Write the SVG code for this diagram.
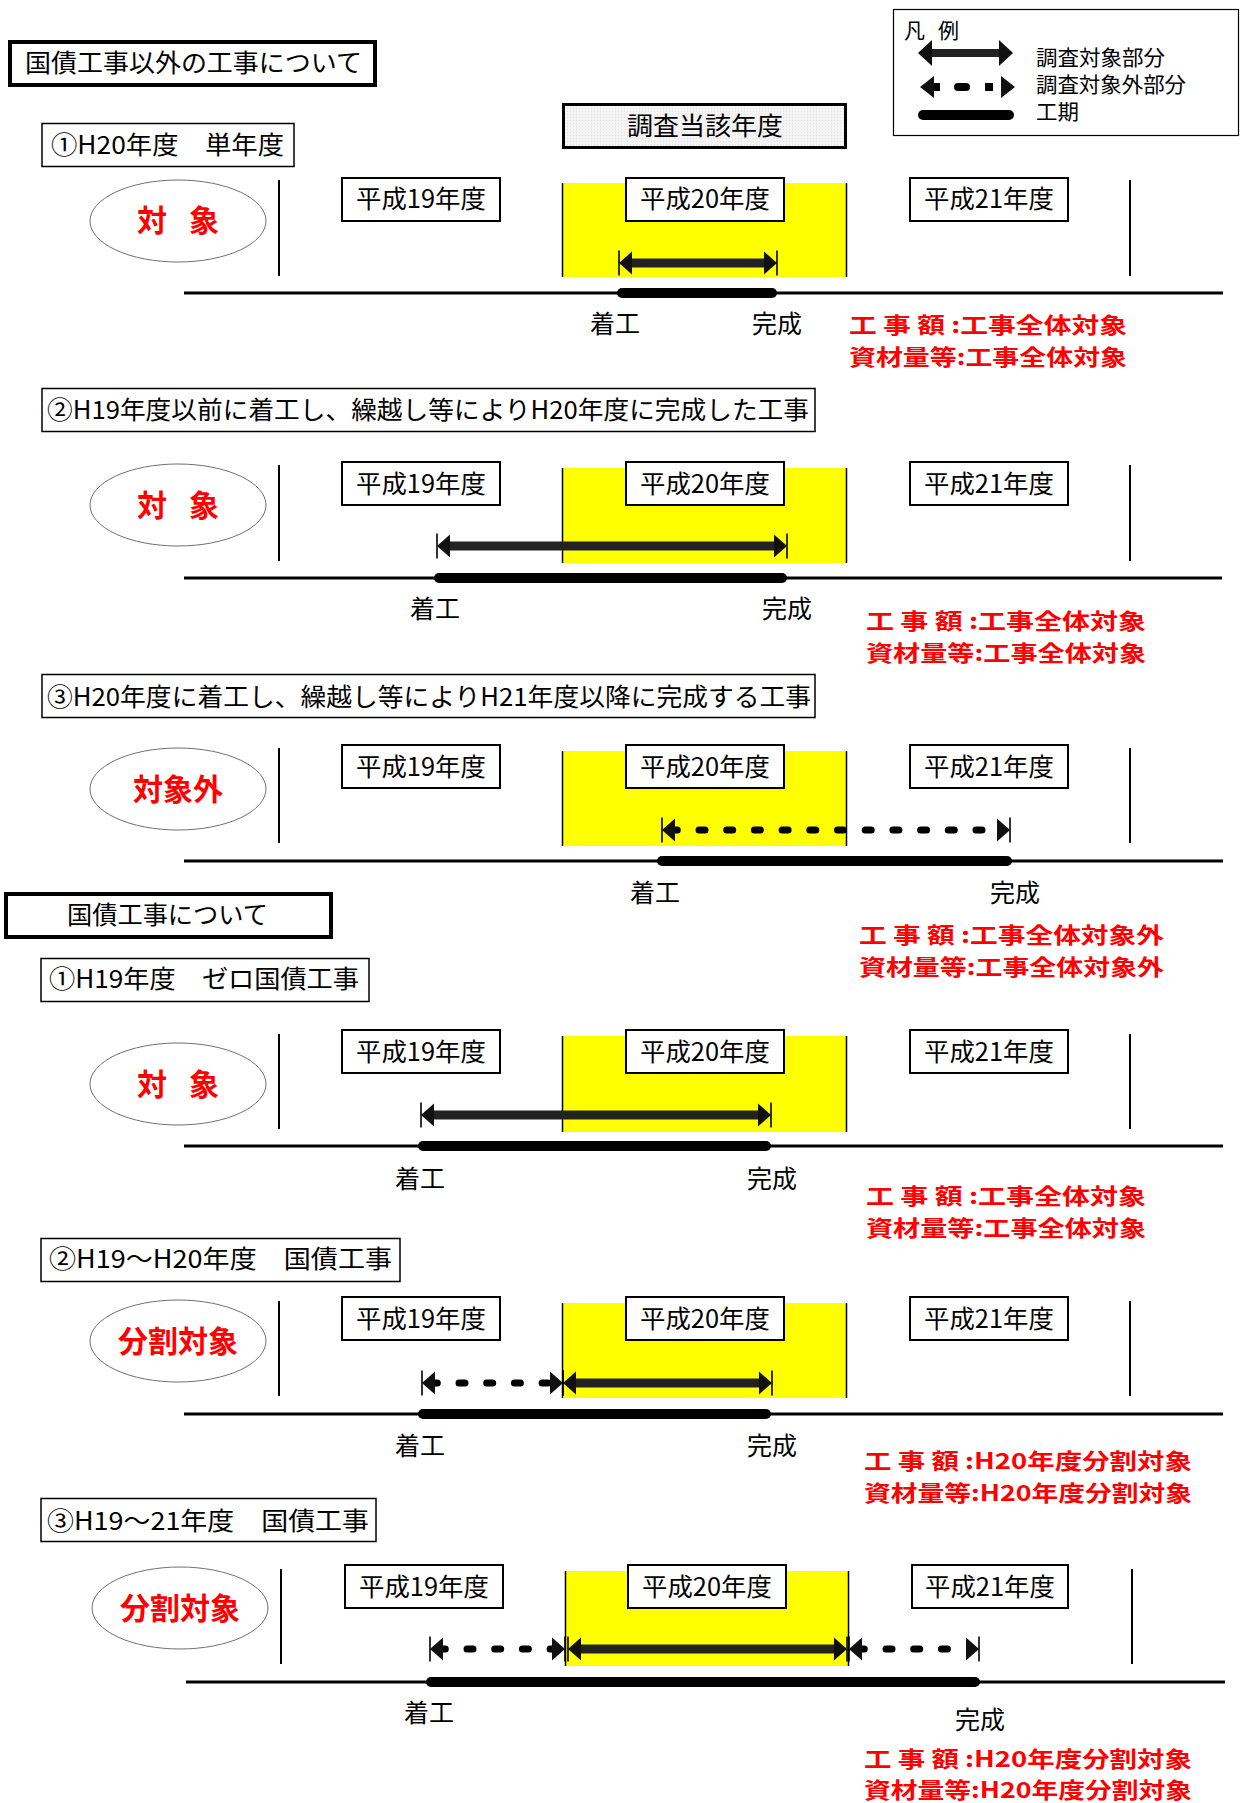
<svg xmlns="http://www.w3.org/2000/svg" width="1240" height="1803" viewBox="0 0 1240 1803">
<defs>
<marker id="ah" viewBox="-15 -13 17 26" markerWidth="17" markerHeight="26" refX="-11" refY="0" orient="auto-start-reverse" markerUnits="userSpaceOnUse" overflow="visible">
<path d="M0,0 L-13,-11.5 L-13,11.5 Z" fill="#111"/>
<path d="M0,-12.5 V12.5" stroke="#000" stroke-width="1.6"/>
</marker>
<marker id="ahn" viewBox="-15 -14 17 28" markerWidth="17" markerHeight="28" refX="-11" refY="0" orient="auto-start-reverse" markerUnits="userSpaceOnUse" overflow="visible">
<path d="M0,0 L-14,-13 L-14,13 Z" fill="#111"/>
</marker>
<pattern id="dots" width="3" height="3" patternUnits="userSpaceOnUse">
<rect width="3" height="3" fill="#f4f4f4"/>
<rect width="1" height="1" fill="#e2e2e2"/>
</pattern>
</defs>
<style>
text{font-family:"Noto Sans CJK JP","Noto Sans CJK SC",sans-serif;fill:#000}
.f25{font-size:25px}
.f21{font-size:21px}
.yr{font-size:25px;text-anchor:middle}
.lb{font-size:25px}
.red{font-size:22px;font-weight:bold;fill:#ff0000}
.et{font-size:30px;font-weight:bold;fill:#ff0000;text-anchor:middle}
.hb{fill:#fff;stroke:#000;stroke-width:4}
.sb{fill:#fff;stroke:#000;stroke-width:1.5}
.yb{fill:#fff;stroke:#000;stroke-width:2}
.yel{fill:#ffff00}
.vl{stroke:#000;stroke-width:2}
.yl{stroke:#000;stroke-width:1.5}
.tl{stroke:#000;stroke-width:3}
.bar{stroke:#000;stroke-width:10;stroke-linecap:round}
.arr{stroke:#222;stroke-width:9;marker-start:url(#ah);marker-end:url(#ah)}
.darr{stroke:#000;stroke-width:7;stroke-linecap:round;stroke-dasharray:6 21.7;stroke-dashoffset:1.7;marker-start:url(#ah);marker-end:url(#ah)}
.ell{fill:#fff;stroke:#707070;stroke-width:1}
</style>
<rect width="1240" height="1803" fill="#fff"/>

<!-- headers -->
<g id="hdr1">
<rect class="hb" x="10" y="42" width="365" height="43"/>
<text class="f25" x="25" y="72" textLength="337" lengthAdjust="spacingAndGlyphs">国債工事以外の工事について</text>
</g>
<g id="legend">
<rect x="893.5" y="9.5" width="345" height="126" fill="#fff" stroke="#000" stroke-width="1.2"/>
<text class="f21" x="904" y="38" textLength="55">凡　例</text>
<line x1="929" y1="53" x2="1002" y2="53" stroke="#222" stroke-width="8" marker-start="url(#ahn)" marker-end="url(#ahn)"/>
<path d="M920,87 L934,76 L934,98 Z M1015,87 L1001,76 L1001,98 Z" fill="#111"/>
<line x1="934" y1="87" x2="940" y2="87" stroke="#000" stroke-width="8"/>
<line x1="958" y1="87" x2="966" y2="87" stroke="#000" stroke-width="8" stroke-linecap="round"/>
<rect x="985" y="83" width="8" height="8" fill="#000"/>
<line x1="923" y1="115" x2="1009" y2="115" stroke="#000" stroke-width="10" stroke-linecap="round"/>
<text class="f21" x="1036" y="65" textLength="129" lengthAdjust="spacingAndGlyphs">調査対象部分</text>
<text class="f21" x="1036" y="92" textLength="150" lengthAdjust="spacingAndGlyphs">調査対象外部分</text>
<text class="f21" x="1036" y="119" textLength="43" lengthAdjust="spacingAndGlyphs">工期</text>
</g>
<g id="target-year">
<rect x="563.5" y="104.5" width="282" height="43" fill="url(#dots)" stroke="#000" stroke-width="3"/>
<text class="f25" x="627" y="135" textLength="156" lengthAdjust="spacingAndGlyphs">調査当該年度</text>
</g>

<!-- Section 1 -->
<g id="s1">
<rect class="sb" x="42" y="123.5" width="252" height="43"/>
<text class="f25" x="51" y="154" textLength="233" lengthAdjust="spacingAndGlyphs">①H20年度　単年度</text>
<ellipse class="ell" cx="178" cy="221" rx="88" ry="41"/>
<text class="et" x="178" y="231" textLength="82">対　象</text>
<rect class="yel" x="562" y="183" width="285" height="94"/>
<line class="yl" x1="562.5" y1="183" x2="562.5" y2="277"/>
<line class="yl" x1="846.5" y1="183" x2="846.5" y2="277"/>
<line class="vl" x1="279" y1="180" x2="279" y2="276"/>
<line class="vl" x1="1130" y1="180" x2="1130" y2="276"/>
<rect class="yb" x="342" y="178" width="158" height="43"/>
<rect class="yb" x="626" y="178" width="158" height="43"/>
<rect class="yb" x="910" y="178" width="158" height="43"/>
<text class="yr" x="421" y="208" textLength="130" lengthAdjust="spacingAndGlyphs">平成19年度</text>
<text class="yr" x="705" y="208" textLength="130" lengthAdjust="spacingAndGlyphs">平成20年度</text>
<text class="yr" x="989" y="208" textLength="130" lengthAdjust="spacingAndGlyphs">平成21年度</text>
<text class="lb" x="590" y="333" textLength="50">着工</text>
<text class="lb" x="752" y="333" textLength="50">完成</text>
<text class="red" x="849" y="333" textLength="278" lengthAdjust="spacingAndGlyphs">工 事 額 :工事全体対象</text>
<text class="red" x="849" y="365" textLength="278" lengthAdjust="spacingAndGlyphs">資材量等:工事全体対象</text>
</g>

<!-- Section 2 -->
<g id="s2">
<rect class="sb" x="42" y="388.5" width="773" height="43"/>
<text class="f25" x="47" y="419" textLength="762" lengthAdjust="spacingAndGlyphs">②H19年度以前に着工し、繰越し等によりH20年度に完成した工事</text>
<ellipse class="ell" cx="178" cy="505" rx="88" ry="41"/>
<text class="et" x="178" y="516" textLength="82">対　象</text>
<rect class="yel" x="562" y="468" width="285" height="95"/>
<line class="yl" x1="562.5" y1="468" x2="562.5" y2="563"/>
<line class="yl" x1="846.5" y1="468" x2="846.5" y2="563"/>
<line class="vl" x1="279" y1="465" x2="279" y2="561"/>
<line class="vl" x1="1130" y1="465" x2="1130" y2="561"/>
<rect class="yb" x="342" y="462" width="158" height="43"/>
<rect class="yb" x="626" y="462" width="158" height="43"/>
<rect class="yb" x="910" y="462" width="158" height="43"/>
<text class="yr" x="421" y="493" textLength="130" lengthAdjust="spacingAndGlyphs">平成19年度</text>
<text class="yr" x="705" y="493" textLength="130" lengthAdjust="spacingAndGlyphs">平成20年度</text>
<text class="yr" x="989" y="493" textLength="130" lengthAdjust="spacingAndGlyphs">平成21年度</text>
<text class="lb" x="410" y="618" textLength="50">着工</text>
<text class="lb" x="762" y="618" textLength="50">完成</text>
<text class="red" x="866" y="629" textLength="280" lengthAdjust="spacingAndGlyphs">工 事 額 :工事全体対象</text>
<text class="red" x="866" y="661" textLength="280" lengthAdjust="spacingAndGlyphs">資材量等:工事全体対象</text>
</g>

<!-- Section 3 -->
<g id="s3">
<rect class="sb" x="42" y="674.5" width="773" height="43"/>
<text class="f25" x="47" y="706" textLength="764" lengthAdjust="spacingAndGlyphs">③H20年度に着工し、繰越し等によりH21年度以降に完成する工事</text>
<ellipse class="ell" cx="178" cy="789" rx="88" ry="41"/>
<text class="et" x="178" y="800">対象外</text>
<rect class="yel" x="562" y="751" width="285" height="95"/>
<line class="yl" x1="562.5" y1="751" x2="562.5" y2="846"/>
<line class="yl" x1="846.5" y1="751" x2="846.5" y2="846"/>
<line class="vl" x1="279" y1="748" x2="279" y2="843"/>
<line class="vl" x1="1130" y1="748" x2="1130" y2="843"/>
<rect class="yb" x="342" y="745" width="158" height="43"/>
<rect class="yb" x="626" y="745" width="158" height="43"/>
<rect class="yb" x="910" y="745" width="158" height="43"/>
<text class="yr" x="421" y="776" textLength="130" lengthAdjust="spacingAndGlyphs">平成19年度</text>
<text class="yr" x="705" y="776" textLength="130" lengthAdjust="spacingAndGlyphs">平成20年度</text>
<text class="yr" x="989" y="776" textLength="130" lengthAdjust="spacingAndGlyphs">平成21年度</text>
<text class="lb" x="630" y="902" textLength="50">着工</text>
<text class="lb" x="990" y="902" textLength="50">完成</text>
<text class="red" x="859" y="943" textLength="305" lengthAdjust="spacingAndGlyphs">工 事 額 :工事全体対象外</text>
<text class="red" x="859" y="975" textLength="305" lengthAdjust="spacingAndGlyphs">資材量等:工事全体対象外</text>
</g>

<!-- National debt header -->
<g id="hdr2">
<rect class="hb" x="6" y="894" width="325" height="43"/>
<text class="f25" x="67" y="924" textLength="201" lengthAdjust="spacingAndGlyphs">国債工事について</text>
</g>

<!-- N1 -->
<g id="n1">
<rect class="sb" x="41" y="958.5" width="328" height="43"/>
<text class="f25" x="49" y="988" textLength="310" lengthAdjust="spacingAndGlyphs">①H19年度　ゼロ国債工事</text>
<ellipse class="ell" cx="178" cy="1084" rx="88" ry="41"/>
<text class="et" x="178" y="1095" textLength="82">対　象</text>
<rect class="yel" x="562" y="1036" width="285" height="96"/>
<line class="yl" x1="562.5" y1="1036" x2="562.5" y2="1132"/>
<line class="yl" x1="846.5" y1="1036" x2="846.5" y2="1132"/>
<line class="vl" x1="279" y1="1034" x2="279" y2="1129"/>
<line class="vl" x1="1130" y1="1034" x2="1130" y2="1129"/>
<rect class="yb" x="342" y="1030" width="158" height="43"/>
<rect class="yb" x="626" y="1030" width="158" height="43"/>
<rect class="yb" x="910" y="1030" width="158" height="43"/>
<text class="yr" x="421" y="1061" textLength="130" lengthAdjust="spacingAndGlyphs">平成19年度</text>
<text class="yr" x="705" y="1061" textLength="130" lengthAdjust="spacingAndGlyphs">平成20年度</text>
<text class="yr" x="989" y="1061" textLength="130" lengthAdjust="spacingAndGlyphs">平成21年度</text>
<text class="lb" x="395" y="1188" textLength="50">着工</text>
<text class="lb" x="747" y="1188" textLength="50">完成</text>
<text class="red" x="866" y="1204" textLength="280" lengthAdjust="spacingAndGlyphs">工 事 額 :工事全体対象</text>
<text class="red" x="866" y="1236" textLength="280" lengthAdjust="spacingAndGlyphs">資材量等:工事全体対象</text>
</g>

<!-- N2 -->
<g id="n2">
<rect class="sb" x="41" y="1238.5" width="359" height="43"/>
<text class="f25" x="49" y="1268" textLength="343" lengthAdjust="spacingAndGlyphs">②H19～H20年度　国債工事</text>
<ellipse class="ell" cx="178" cy="1341" rx="88" ry="41"/>
<text class="et" x="178" y="1352">分割対象</text>
<rect class="yel" x="562" y="1303" width="285" height="95"/>
<line class="yl" x1="562.5" y1="1303" x2="562.5" y2="1398"/>
<line class="yl" x1="846.5" y1="1303" x2="846.5" y2="1398"/>
<line class="vl" x1="279" y1="1301" x2="279" y2="1396"/>
<line class="vl" x1="1130" y1="1301" x2="1130" y2="1396"/>
<rect class="yb" x="342" y="1297" width="158" height="43"/>
<rect class="yb" x="626" y="1297" width="158" height="43"/>
<rect class="yb" x="910" y="1297" width="158" height="43"/>
<text class="yr" x="421" y="1328" textLength="130" lengthAdjust="spacingAndGlyphs">平成19年度</text>
<text class="yr" x="705" y="1328" textLength="130" lengthAdjust="spacingAndGlyphs">平成20年度</text>
<text class="yr" x="989" y="1328" textLength="130" lengthAdjust="spacingAndGlyphs">平成21年度</text>
<text class="lb" x="395" y="1455" textLength="50">着工</text>
<text class="lb" x="747" y="1455" textLength="50">完成</text>
<text class="red" x="864" y="1469" textLength="328" lengthAdjust="spacingAndGlyphs">工 事 額 :H20年度分割対象</text>
<text class="red" x="864" y="1501" textLength="328" lengthAdjust="spacingAndGlyphs">資材量等:H20年度分割対象</text>
</g>

<!-- N3 -->
<g id="n3">
<rect class="sb" x="41" y="1498.5" width="335" height="43"/>
<text class="f25" x="47" y="1530" textLength="322" lengthAdjust="spacingAndGlyphs">③H19～21年度　国債工事</text>
<ellipse class="ell" cx="180" cy="1608" rx="88" ry="41"/>
<text class="et" x="180" y="1619">分割対象</text>
<rect class="yel" x="565" y="1571" width="284" height="95"/>
<line class="yl" x1="565.5" y1="1571" x2="565.5" y2="1666"/>
<line class="yl" x1="848.5" y1="1571" x2="848.5" y2="1666"/>
<line class="vl" x1="281" y1="1569" x2="281" y2="1664"/>
<line class="vl" x1="1132" y1="1569" x2="1132" y2="1664"/>
<rect class="yb" x="345" y="1565" width="158" height="43"/>
<rect class="yb" x="628" y="1565" width="158" height="43"/>
<rect class="yb" x="912" y="1565" width="156" height="43"/>
<text class="yr" x="424" y="1596" textLength="130" lengthAdjust="spacingAndGlyphs">平成19年度</text>
<text class="yr" x="707" y="1596" textLength="130" lengthAdjust="spacingAndGlyphs">平成20年度</text>
<text class="yr" x="990" y="1596" textLength="130" lengthAdjust="spacingAndGlyphs">平成21年度</text>
<text class="lb" x="404" y="1722" textLength="50">着工</text>
<text class="lb" x="955" y="1729" textLength="50">完成</text>
<text class="red" x="864" y="1767" textLength="328" lengthAdjust="spacingAndGlyphs">工 事 額 :H20年度分割対象</text>
<text class="red" x="864" y="1798" textLength="328" lengthAdjust="spacingAndGlyphs">資材量等:H20年度分割対象</text>
</g>

<!-- connectors: timelines, construction periods and arrows -->
<g id="connectors">
<line class="tl" x1="184" y1="293" x2="1223" y2="293"/>
<line class="bar" x1="622" y1="293" x2="772" y2="293"/>
<line class="arr" x1="630" y1="263" x2="766" y2="263"/>

<line class="tl" x1="184" y1="578" x2="1222" y2="578"/>
<line class="bar" x1="439" y1="578" x2="782" y2="578"/>
<line class="arr" x1="448" y1="546" x2="776" y2="546"/>

<line class="tl" x1="184" y1="861" x2="1223" y2="861"/>
<line class="bar" x1="662" y1="861" x2="1007" y2="861"/>
<line class="darr" x1="673" y1="830" x2="999" y2="830"/>

<line class="tl" x1="184" y1="1146" x2="1223" y2="1146"/>
<line class="bar" x1="423" y1="1146" x2="766" y2="1146"/>
<line class="arr" x1="432" y1="1115" x2="760" y2="1115"/>

<line class="tl" x1="184" y1="1414" x2="1223" y2="1414"/>
<line class="bar" x1="423" y1="1414" x2="766" y2="1414"/>
<line class="darr" x1="433" y1="1383" x2="552" y2="1383"/>
<line class="arr" x1="574" y1="1383" x2="761" y2="1383"/>

<line class="tl" x1="186" y1="1682" x2="1225" y2="1682"/>
<line class="bar" x1="431" y1="1682" x2="975" y2="1682"/>
<line class="darr" x1="441" y1="1649" x2="554" y2="1649"/>
<line class="arr" x1="579" y1="1649" x2="836" y2="1649"/>
<line class="darr" x1="860" y1="1649" x2="968" y2="1649"/>
</g>
</svg>
